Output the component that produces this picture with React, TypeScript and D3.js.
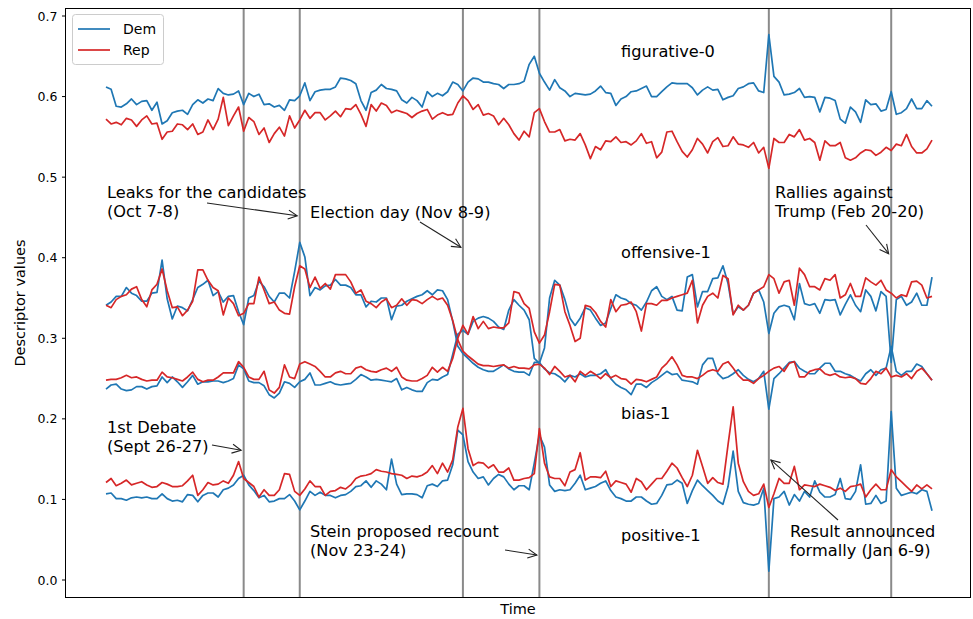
import React from 'react';
import * as d3 from 'd3';

// ---------- data (daily descriptor values, index = day) ----------
const figurativeDem = [
0.612,0.609,0.588,0.587,0.591,0.597,0.590,0.594,0.595,0.583,
0.593,0.566,0.570,0.580,0.582,0.583,0.578,0.590,0.596,0.592,
0.597,0.595,0.610,0.604,0.602,0.603,0.607,0.590,0.604,0.600,
0.603,0.590,0.591,0.587,0.589,0.583,0.596,0.595,0.601,0.617,
0.595,0.606,0.608,0.609,0.609,0.612,0.623,0.622,0.620,0.616,
0.595,0.583,0.605,0.608,0.615,0.610,0.609,0.607,0.596,0.592,
0.599,0.595,0.587,0.606,0.600,0.604,0.601,0.606,0.618,0.615,
0.607,0.618,0.623,0.622,0.618,0.618,0.616,0.615,0.610,0.615,
0.615,0.616,0.619,0.640,0.650,0.629,0.618,0.608,0.621,0.611,
0.607,0.600,0.604,0.603,0.602,0.603,0.607,0.613,0.605,0.604,
0.589,0.597,0.600,0.606,0.607,0.610,0.613,0.600,0.600,0.606,
0.612,0.617,0.616,0.616,0.616,0.611,0.602,0.608,0.612,0.608,
0.609,0.596,0.599,0.601,0.610,0.612,0.616,0.617,0.607,0.605,
0.677,0.625,0.618,0.602,0.603,0.605,0.610,0.599,0.600,0.599,
0.581,0.599,0.598,0.595,0.572,0.567,0.587,0.581,0.568,0.596,
0.590,0.591,0.582,0.584,0.606,0.578,0.580,0.585,0.597,0.585,
0.585,0.595,0.588];

const figurativeRep = [
0.572,0.566,0.568,0.565,0.573,0.571,0.563,0.571,0.576,0.566,
0.567,0.547,0.556,0.557,0.566,0.565,0.559,0.566,0.553,0.556,
0.571,0.559,0.572,0.599,0.564,0.576,0.587,0.557,0.574,0.569,
0.553,0.561,0.543,0.554,0.562,0.551,0.576,0.561,0.571,0.583,
0.573,0.580,0.580,0.571,0.576,0.582,0.575,0.585,0.584,0.590,
0.578,0.563,0.590,0.582,0.592,0.589,0.580,0.583,0.581,0.579,
0.574,0.579,0.582,0.584,0.572,0.577,0.580,0.577,0.578,0.592,
0.601,0.595,0.584,0.590,0.577,0.579,0.576,0.565,0.573,0.565,
0.554,0.546,0.557,0.550,0.580,0.585,0.569,0.556,0.556,0.559,
0.545,0.547,0.546,0.554,0.540,0.523,0.538,0.534,0.545,0.544,
0.550,0.543,0.544,0.540,0.545,0.554,0.542,0.544,0.524,0.531,
0.556,0.557,0.544,0.532,0.525,0.534,0.548,0.541,0.530,0.544,
0.549,0.538,0.539,0.550,0.541,0.540,0.537,0.543,0.530,0.537,
0.511,0.548,0.543,0.543,0.553,0.550,0.559,0.546,0.548,0.543,
0.521,0.545,0.539,0.539,0.543,0.524,0.521,0.524,0.530,0.534,
0.533,0.527,0.531,0.537,0.533,0.541,0.539,0.553,0.538,0.530,
0.530,0.535,0.546];

const offensiveDem = [
0.341,0.345,0.352,0.352,0.363,0.356,0.353,0.346,0.346,0.356,
0.357,0.397,0.349,0.324,0.340,0.338,0.334,0.348,0.363,0.367,
0.372,0.353,0.358,0.345,0.352,0.353,0.333,0.317,0.350,0.353,
0.371,0.364,0.352,0.345,0.356,0.356,0.350,0.383,0.419,0.401,
0.353,0.363,0.360,0.365,0.366,0.373,0.366,0.366,0.363,0.354,
0.354,0.339,0.346,0.345,0.350,0.350,0.323,0.340,0.341,0.346,
0.349,0.352,0.354,0.359,0.354,0.360,0.359,0.348,0.321,0.290,
0.281,0.275,0.269,0.264,0.261,0.259,0.259,0.263,0.267,0.262,
0.259,0.258,0.258,0.254,0.270,0.270,0.262,0.257,0.256,0.252,
0.246,0.254,0.252,0.256,0.252,0.254,0.254,0.256,0.261,0.250,
0.243,0.239,0.236,0.230,0.243,0.243,0.239,0.245,0.249,0.254,
0.259,0.255,0.256,0.248,0.247,0.246,0.243,0.267,0.275,0.275,
0.256,0.250,0.252,0.256,0.261,0.254,0.249,0.246,0.250,0.259,
0.212,0.250,0.256,0.263,0.270,0.271,0.263,0.259,0.256,0.256,
0.263,0.269,0.269,0.259,0.259,0.256,0.254,0.250,0.247,0.256,
0.261,0.254,0.261,0.263,0.290,0.259,0.254,0.259,0.259,0.268,
0.265,0.256,0.248];

const offensiveRep = [
0.341,0.338,0.348,0.352,0.354,0.361,0.364,0.348,0.339,0.360,
0.367,0.386,0.359,0.338,0.339,0.328,0.335,0.346,0.385,0.385,
0.372,0.363,0.359,0.329,0.350,0.343,0.328,0.331,0.343,0.343,
0.376,0.360,0.343,0.345,0.335,0.331,0.330,0.364,0.390,0.386,
0.363,0.376,0.362,0.368,0.361,0.379,0.379,0.379,0.370,0.356,
0.360,0.346,0.343,0.338,0.345,0.349,0.338,0.341,0.349,0.341,
0.348,0.347,0.343,0.348,0.352,0.348,0.350,0.341,0.322,0.298,
0.284,0.278,0.273,0.268,0.266,0.266,0.265,0.266,0.267,0.263,
0.265,0.263,0.263,0.262,0.267,0.268,0.263,0.255,0.265,0.259,
0.252,0.254,0.246,0.259,0.254,0.259,0.255,0.250,0.256,0.251,
0.254,0.250,0.249,0.243,0.249,0.248,0.246,0.249,0.252,0.263,
0.269,0.277,0.267,0.254,0.252,0.252,0.250,0.254,0.259,0.261,
0.259,0.268,0.271,0.263,0.254,0.248,0.248,0.244,0.250,0.254,
0.259,0.263,0.265,0.259,0.269,0.271,0.252,0.252,0.259,0.261,
0.262,0.256,0.254,0.256,0.252,0.251,0.252,0.250,0.244,0.243,
0.250,0.259,0.256,0.263,0.252,0.254,0.252,0.256,0.250,0.259,
0.263,0.256,0.248];

const biasDem = [
0.237,0.242,0.243,0.237,0.235,0.236,0.240,0.240,0.237,0.240,
0.241,0.252,0.245,0.252,0.246,0.239,0.246,0.254,0.243,0.246,
0.246,0.247,0.247,0.245,0.247,0.250,0.267,0.262,0.247,0.245,
0.245,0.241,0.230,0.226,0.232,0.246,0.244,0.239,0.246,0.249,
0.257,0.242,0.242,0.244,0.246,0.243,0.242,0.243,0.244,0.249,
0.255,0.252,0.248,0.249,0.248,0.247,0.246,0.250,0.236,0.239,
0.236,0.234,0.234,0.245,0.249,0.248,0.252,0.255,0.280,0.305,
0.310,0.305,0.321,0.325,0.327,0.325,0.321,0.314,0.311,0.335,
0.348,0.341,0.335,0.323,0.275,0.269,0.288,0.350,0.372,0.366,
0.348,0.325,0.316,0.325,0.338,0.335,0.325,0.316,0.319,0.337,
0.354,0.350,0.348,0.343,0.341,0.335,0.345,0.359,0.364,0.352,
0.348,0.352,0.335,0.334,0.376,0.379,0.339,0.358,0.358,0.374,
0.375,0.390,0.368,0.330,0.339,0.335,0.341,0.356,0.360,0.345,
0.306,0.331,0.339,0.341,0.339,0.323,0.368,0.343,0.341,0.343,
0.331,0.348,0.347,0.348,0.329,0.342,0.354,0.341,0.333,0.360,
0.352,0.334,0.358,0.352,0.270,0.348,0.352,0.341,0.345,0.356,
0.341,0.341,0.376];

const biasRep = [
0.248,0.249,0.249,0.251,0.254,0.251,0.252,0.249,0.247,0.248,
0.248,0.258,0.252,0.251,0.249,0.247,0.252,0.258,0.249,0.246,
0.248,0.248,0.252,0.257,0.257,0.257,0.271,0.264,0.252,0.249,
0.249,0.259,0.236,0.232,0.239,0.267,0.252,0.250,0.268,0.271,
0.268,0.265,0.259,0.252,0.252,0.257,0.259,0.256,0.256,0.263,
0.265,0.261,0.259,0.258,0.261,0.263,0.259,0.264,0.252,0.248,
0.247,0.247,0.250,0.254,0.264,0.258,0.264,0.259,0.275,0.300,
0.316,0.305,0.327,0.312,0.321,0.312,0.314,0.313,0.313,0.319,
0.358,0.356,0.343,0.337,0.308,0.294,0.304,0.333,0.367,0.366,
0.333,0.316,0.296,0.300,0.341,0.339,0.332,0.321,0.314,0.348,
0.333,0.341,0.342,0.345,0.333,0.309,0.343,0.343,0.341,0.347,
0.347,0.350,0.352,0.354,0.356,0.372,0.319,0.341,0.352,0.356,
0.350,0.378,0.374,0.329,0.341,0.335,0.341,0.356,0.360,0.364,
0.379,0.374,0.356,0.370,0.372,0.341,0.387,0.379,0.364,0.364,
0.360,0.374,0.372,0.379,0.350,0.354,0.368,0.352,0.352,0.375,
0.370,0.366,0.372,0.360,0.356,0.350,0.354,0.352,0.370,0.371,
0.366,0.350,0.352];

const positiveDem = [
0.107,0.108,0.101,0.101,0.099,0.102,0.103,0.102,0.103,0.101,
0.101,0.107,0.101,0.098,0.099,0.097,0.106,0.105,0.097,0.105,
0.108,0.108,0.103,0.112,0.114,0.118,0.126,0.130,0.118,0.111,
0.102,0.105,0.097,0.098,0.101,0.101,0.106,0.098,0.087,0.098,
0.110,0.105,0.109,0.105,0.105,0.102,0.105,0.106,0.110,0.116,
0.117,0.123,0.115,0.123,0.119,0.112,0.150,0.119,0.106,0.107,
0.107,0.106,0.102,0.117,0.119,0.116,0.123,0.124,0.143,0.186,
0.180,0.147,0.134,0.126,0.128,0.118,0.126,0.131,0.128,0.119,
0.112,0.117,0.117,0.112,0.145,0.180,0.165,0.118,0.110,0.112,
0.111,0.112,0.120,0.130,0.112,0.114,0.116,0.120,0.123,0.111,
0.103,0.101,0.098,0.098,0.103,0.103,0.098,0.094,0.095,0.105,
0.118,0.119,0.124,0.120,0.095,0.111,0.124,0.117,0.111,0.105,
0.098,0.094,0.116,0.160,0.110,0.096,0.094,0.093,0.095,0.114,
0.011,0.101,0.103,0.110,0.093,0.106,0.098,0.110,0.103,0.123,
0.109,0.103,0.103,0.106,0.126,0.101,0.100,0.110,0.143,0.094,
0.095,0.105,0.095,0.098,0.209,0.114,0.105,0.107,0.109,0.107,
0.112,0.110,0.086];

const positiveRep = [
0.121,0.126,0.117,0.120,0.124,0.118,0.120,0.122,0.118,0.115,
0.116,0.121,0.119,0.116,0.116,0.117,0.123,0.130,0.105,0.112,
0.121,0.118,0.119,0.123,0.120,0.130,0.147,0.126,0.121,0.116,
0.103,0.112,0.105,0.105,0.112,0.132,0.131,0.110,0.105,0.113,
0.123,0.116,0.116,0.105,0.110,0.111,0.115,0.113,0.118,0.126,
0.129,0.130,0.132,0.137,0.135,0.134,0.132,0.131,0.130,0.126,
0.129,0.128,0.130,0.134,0.142,0.132,0.145,0.134,0.149,0.190,
0.213,0.163,0.142,0.146,0.145,0.139,0.143,0.134,0.134,0.139,
0.124,0.124,0.126,0.127,0.132,0.188,0.145,0.128,0.126,0.126,
0.117,0.134,0.137,0.158,0.124,0.128,0.128,0.127,0.135,0.116,
0.123,0.121,0.119,0.109,0.126,0.122,0.112,0.119,0.126,0.126,
0.135,0.145,0.139,0.127,0.116,0.130,0.161,0.141,0.120,0.127,
0.121,0.119,0.168,0.215,0.145,0.122,0.110,0.105,0.107,0.119,
0.090,0.107,0.126,0.120,0.120,0.141,0.112,0.118,0.117,0.116,
0.119,0.117,0.115,0.111,0.114,0.110,0.116,0.117,0.119,0.103,
0.112,0.119,0.112,0.112,0.137,0.128,0.122,0.116,0.110,0.118,
0.113,0.118,0.113];

const yTicks = [0.0, 0.1, 0.2, 0.3, 0.4, 0.5, 0.6, 0.7];
const eventDays = [27, 38, 70, 85, 130, 154];
const seriesNames = ['Dem', 'Rep'];
const descriptorLabels = ['figurative-0', 'offensive-1', 'bias-1', 'positive-1'];

const DEM = '#1f77b4';
const REP = '#d62728';
const FONT = 'DejaVu Sans, sans-serif';

type Ann = { lines: string[]; tx: number; ty: number; from: [number, number]; to: [number, number] };

export default function App() {
  const left = 65.5, right = 970.5, top = 8.5, bottom = 597.5;
  const x = d3.scaleLinear().domain([0, 162]).range([106, 932]);
  const y = d3.scaleLinear().domain([0, 0.7]).range([580, 16]);
  const line = d3.line<number>().x((_, i) => x(i)).y(d => y(d));

  const pairs: [number[], number[]][] = [
    [figurativeDem, figurativeRep],
    [offensiveDem, offensiveRep],
    [biasDem, biasRep],
    [positiveDem, positiveRep],
  ];

  const labelPos = [
    { x: 621, y: 56.5 },
    { x: 621, y: 257.5 },
    { x: 621, y: 418.5 },
    { x: 621, y: 540.5 },
  ];

  const anns: Ann[] = [
    { lines: ['Leaks for the candidates', '(Oct 7-8)'], tx: 107, ty: 198, from: [207, 203], to: [x(37.5), y(0.452)] },
    { lines: ['Election day (Nov 8-9)'], tx: 310, ty: 217.5, from: [420, 222], to: [x(69.6), y(0.413)] },
    { lines: ['Rallies against', 'Trump (Feb 20-20)'], tx: 775, ty: 198, from: [866, 225], to: [x(153.5), y(0.405)] },
    { lines: ['1st Debate', '(Sept 26-27)'], tx: 107, ty: 432.5, from: [212, 445], to: [x(26.5), y(0.161)] },
    { lines: ['Stein proposed recount', '(Nov 23-24)'], tx: 310, ty: 537, from: [505, 550], to: [x(84.5), y(0.031)] },
    { lines: ['Result announced', 'formally (Jan 6-9)'], tx: 790, ty: 537, from: [838, 520], to: [x(130.4), y(0.149)] },
  ];

  const arrowHead = (from: [number, number], to: [number, number]) => {
    const dx = to[0] - from[0], dy = to[1] - from[1];
    const len = Math.hypot(dx, dy);
    const ux = dx / len, uy = dy / len;
    const L = 9, Wd = 4.5;
    const bx = to[0] - ux * L, by = to[1] - uy * L;
    const p1 = [bx - uy * Wd, by + ux * Wd];
    const p2 = [bx + uy * Wd, by - ux * Wd];
    return `M${p1[0]},${p1[1]} L${to[0]},${to[1]} L${p2[0]},${p2[1]}`;
  };

  return (
    <svg width={973} height={619} style={{ position: 'absolute', left: 0, top: 0, background: '#fff' }} fontFamily={FONT}>
      <rect x={0} y={0} width={973} height={619} fill="#fff" />
      {/* event lines */}
      {eventDays.map(d => (
        <line key={d} x1={x(d)} x2={x(d)} y1={top} y2={bottom} stroke="#8a8a8a" strokeWidth={2} />
      ))}
      {/* series */}
      {pairs.map((p, k) => (
        <g key={k}>
          <path d={line(p[0]) || ''} fill="none" stroke={DEM} strokeWidth={1.7} strokeLinejoin="round" />
          <path d={line(p[1]) || ''} fill="none" stroke={REP} strokeWidth={1.7} strokeLinejoin="round" />
        </g>
      ))}
      {/* frame */}
      <rect x={left} y={top} width={right - left} height={bottom - top} fill="none" stroke="#000" strokeWidth={1} />
      {/* y ticks */}
      {yTicks.map(t => (
        <g key={t}>
          <line x1={left - 3.5} x2={left} y1={y(t)} y2={y(t)} stroke="#000" strokeWidth={1} />
          <text x={left - 8} y={y(t)} dy="0.36em" textAnchor="end" fontSize={12.5} fill="#000">{t.toFixed(1)}</text>
        </g>
      ))}
      <text x={(left + right) / 2} y={614} textAnchor="middle" fontSize={14.5} fill="#000">Time</text>
      <text transform={`translate(25,${(top + bottom) / 2}) rotate(-90)`} textAnchor="middle" fontSize={14.5} fill="#000">Descriptor values</text>
      {/* descriptor labels */}
      {descriptorLabels.map((l, i) => (
        <text key={l} x={labelPos[i].x} y={labelPos[i].y} fontSize={16.2} fill="#000">{l}</text>
      ))}
      {/* annotations */}
      {anns.map((a, i) => (
        <g key={i}>
          {a.lines.map((s, j) => (
            <text key={j} x={a.tx} y={a.ty + j * 19.2} fontSize={16.2} fill="#000">{s}</text>
          ))}
          <line x1={a.from[0]} y1={a.from[1]} x2={a.to[0]} y2={a.to[1]} stroke="#222" strokeWidth={1.1} />
          <path d={arrowHead(a.from, a.to)} fill="none" stroke="#222" strokeWidth={1.1} />
        </g>
      ))}
      {/* legend */}
      <rect x={72.5} y={14.5} width={91} height={50} rx={3} fill="#fff" fillOpacity={0.8} stroke="#cccccc" strokeWidth={1} />
      {seriesNames.map((n, i) => (
        <g key={n}>
          <line x1={78} x2={110} y1={29 + i * 21} y2={29 + i * 21} stroke={i === 0 ? DEM : REP} strokeWidth={1.7} />
          <text x={123} y={29 + i * 21} dy="0.36em" fontSize={14} fill="#000">{n}</text>
        </g>
      ))}
    </svg>
  );
}
